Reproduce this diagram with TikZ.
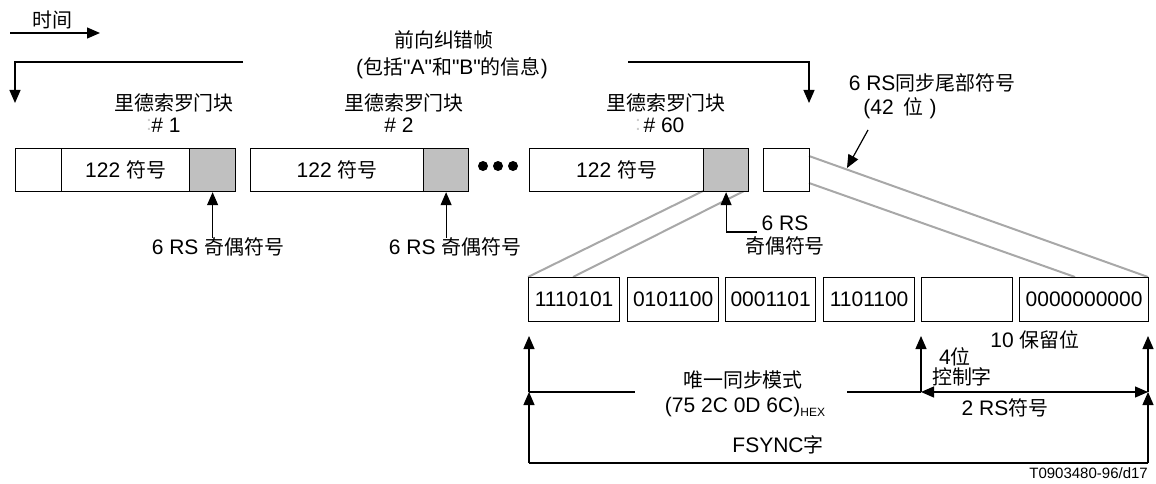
\documentclass[tikz,border=0pt]{standalone}
\usepackage{fontspec}
\setmainfont{Liberation Sans}[Ligatures=TeXOff]
\newfontfamily\cjk{Noto Sans CJK SC}[Scale=0.95]
\usetikzlibrary{arrows.meta,calc}
\definecolor{boxgray}{RGB}{192,192,192}
\definecolor{linkgray}{RGB}{168,168,168}
\begin{document}
\begin{tikzpicture}[x=1pt,y=-1pt,
  every node/.style={font=\fontsize{21}{23}\selectfont, inner sep=0pt},
  cell/.style={draw, line width=1.2pt, minimum height=43pt, anchor=north west, inner sep=0pt},
  cellb/.style={draw, line width=1.2pt, minimum height=44pt, anchor=north west, inner sep=0pt},
  gcell/.style={fill=boxgray},
  ln/.style={line width=1.2pt},
  arr/.style={line width=1.2pt, -{Triangle[length=13pt,width=11pt]}},
  arrtwo/.style={line width=1.2pt, {Triangle[length=13pt,width=11pt]}-{Triangle[length=13pt,width=11pt]}},
  glink/.style={draw=linkgray, line width=2pt},
  dot/.style={circle, fill, minimum size=10pt, inner sep=0pt}
]
\useasboundingbox (0,0) rectangle (1156,484);

% time arrow
\node (t) at (52,20) {\cjk 时间};
\coordinate (t1) at (10,33);
\coordinate (t2) at (100,33);
\draw[arr] (t1) -- (t2);

% frame title
\node (ft1) at (444,40) {\cjk 前向纠错帧};
\node (ft2) at (452,68) {({\cjk 包括}"A"{\cjk 和}"B"{\cjk 的信息})};
\coordinate (fL) at (243,62);
\coordinate (fLd) at (15,103);
\draw[arr] (fL) -| (fLd);
\coordinate (fR) at (628,62);
\coordinate (fRd) at (809,103);
\draw[arr] (fR) -| (fRd);

% block labels
\node (rs1) at (174,103) {\cjk 里德索罗门块};
\node (n1) at (166,125) {\# 1};
\node[text=gray!40] (c1) at (149,125) {:};
\node (rs2) at (404,103) {\cjk 里德索罗门块};
\node (n2) at (399,125) {\# 2};
\node (rs3) at (666,103) {\cjk 里德索罗门块};
\node (n3) at (664,125) {\# 60};
\node[text=gray!40] (c3) at (638,125) {:};

% gray links (behind)
\coordinate (g1) at (744,191);
\coordinate (g2) at (573,277);
\coordinate (g3) at (809,156);
\coordinate (g4) at (809,183);
\coordinate (g5) at (1075,277);
\coordinate (g6) at (703,191);
\coordinate (g7) at (528,277);
\coordinate (g8) at (1148,277);
\draw[glink] (g6) -- (g7);
\draw[glink] (g1) -- (g2);
\draw[glink] (g3) -- (g8);
\draw[glink] (g4) -- (g5);

% top row of blocks
\node[cell, minimum width=46pt] (b1a) at (15,148) {};
\node[cell, minimum width=128pt] (b1b) at (61,148) {122 {\cjk 符号}};
\node[cell, gcell, minimum width=46pt] (b1c) at (189,148) {};
\node[cell, minimum width=173pt] (b2b) at (250,148) {122 {\cjk 符号}};
\node[cell, gcell, minimum width=45pt] (b2c) at (423,148) {};
\node[dot] (d1) at (483,166) {};
\node[dot] (d2) at (498,166) {};
\node[dot] (d3) at (513,166) {};
\node[cell, minimum width=174pt] (b3b) at (529,148) {122 {\cjk 符号}};
\node[cell, gcell, minimum width=45pt] (b3c) at (703,148) {};
\node[cell, minimum width=46pt] (s) at (763,148) {};

% parity labels
\node (p1) at (218,247) {6 RS {\cjk 奇偶符号}};
\draw[arr] (p1.north -| b1c.south) -- (b1c.south);
\node (p2) at (455,247) {6 RS {\cjk 奇偶符号}};
\draw[arr] (p2.north -| b2c.south) -- (b2c.south);
\node[align=center] (p3) at (785,235) {6 RS\\{\cjk 奇偶符号}};
\coordinate (cp3) at (757,232);
\draw[arr] (cp3) -| (b3c.south);

% sync tail label
\node (st1) at (932,83) {6 RS{\cjk 同步尾部符号}};
\node (st2) at (900,108) {(42\hspace{10pt}{\cjk 位}\hspace{6pt})};
\coordinate (sa1) at (868,130);
\coordinate (sa2) at (847,168);
\draw[arr] (sa1) -- (sa2);

% bottom row
\node[cellb, minimum width=91pt] (r1) at (528,277) {1110101};
\node[cellb, minimum width=91pt] (r2) at (627,277) {0101100};
\node[cellb, minimum width=90pt] (r3) at (725,277) {0001101};
\node[cellb, minimum width=91pt] (r4) at (823,277) {1101100};
\node[cellb, minimum width=91pt] (r5) at (921,277) {};
\node[cellb, minimum width=129pt] (r6) at (1019,277) {0000000000};

% brackets
\coordinate (L0) at (529,463);
\coordinate (L1) at (529,392);
\coordinate (L2) at (529,336);
\coordinate (M0) at (635,392);
\coordinate (M1) at (847,392);
\coordinate (C1) at (921,392);
\coordinate (C2) at (921,336);
\coordinate (R0) at (1148,463);
\coordinate (R1) at (1148,392);
\coordinate (R2) at (1148,336);
\draw[ln] (L0) -- (R0);
\draw[arr] (L0) -- (L1);
\draw[arr] (L1) -- (L2);
\draw[arr] (R0) -- (R1);
\draw[arr] (R1) -- (R2);
\draw[ln] (L1) -- (M0);
\draw[ln] (M1) -- (C1);
\draw[arrtwo] (C1) -- (R1);
\draw[arr] (C1) -- (C2);

% bottom texts
\node (u1) at (743,380) {\cjk 唯一同步模式};
\node (u2) at (745,407) {(75 2C 0D 6C)\raisebox{-4pt}{\fontsize{12}{14}\selectfont HEX}};
\node (fs) at (778,445) {FSYNC{\cjk 字}};
\node (rb) at (1035,340) {10 {\cjk 保留位}};
\node (cb1) at (955,357) {4{\cjk 位}};
\node (cb2) at (962,377) {\cjk 控制字};
\node (rsx) at (1005,408) {2 RS{\cjk 符号}};
\node[anchor=east, font=\fontsize{15}{17}\selectfont] (id) at (1148,473) {T0903480-96/d17};
\end{tikzpicture}
\end{document}
